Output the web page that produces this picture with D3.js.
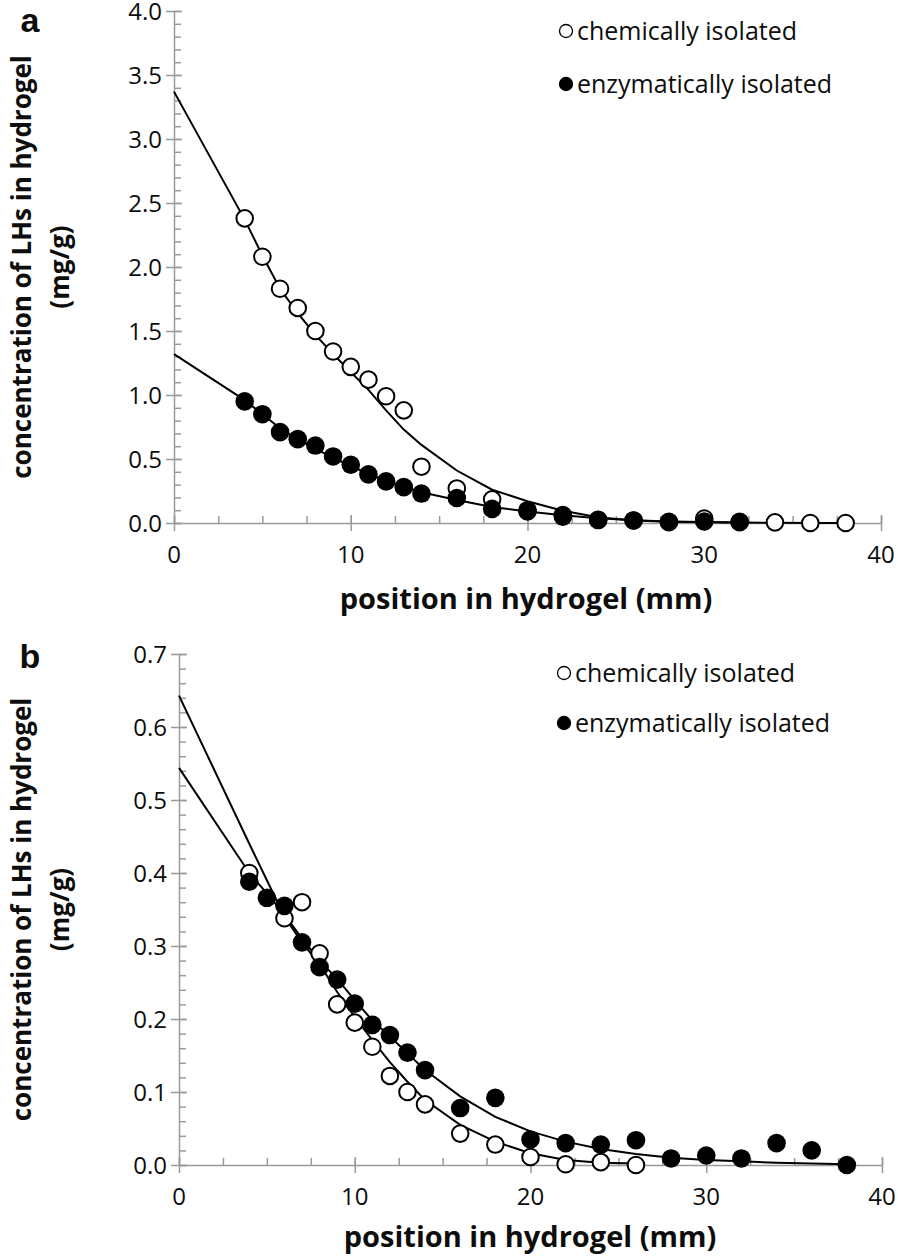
<!DOCTYPE html>
<html>
<head>
<meta charset="utf-8">
<script src="https://cdn.jsdelivr.net/npm/d3@7"></script>
<style>
  html, body { margin: 0; padding: 0; background: #fff; }
  svg { display: block; }
</style>
</head>
<body>
<svg id="chart" width="898" height="1258"></svg>
<script>
// ---------- data ----------
const xTickValues = [0, 10, 20, 30, 40];
const legendLabels = ["chemically isolated", "enzymatically isolated"];
const panelLetters = ["a", "b"];
const xTitle = "position in hydrogel (mm)";
const yTitleLines = ["concentration of LHs in hydrogel", "(mg/g)"];

// Panel a
const aYTicks = [0.0, 0.5, 1.0, 1.5, 2.0, 2.5, 3.0, 3.5, 4.0];
const aChemX = [4, 5, 6, 7, 8, 9, 10, 11, 12, 13, 14, 16, 18, 20, 22, 24, 26, 28, 30, 32, 34, 36, 38];
const aChemY = [2.38, 2.08, 1.83, 1.68, 1.50, 1.34, 1.22, 1.12, 0.99, 0.88, 0.44, 0.27, 0.185, 0.09, 0.05, 0.025, 0.02, 0.01, 0.035, 0.01, 0.005, 0.0, 0.0];
const aEnzX = [4, 5, 6, 7, 8, 9, 10, 11, 12, 13, 14, 16, 18, 20, 22, 24, 26, 28, 30, 32];
const aEnzY = [0.95, 0.85, 0.71, 0.655, 0.605, 0.52, 0.455, 0.38, 0.325, 0.28, 0.23, 0.195, 0.11, 0.10, 0.062, 0.024, 0.02, 0.006, 0.012, 0.006];
const aChemFitX = [0, 4, 5, 6, 7, 8, 9, 10, 11, 12, 13, 14, 16, 18, 20, 22, 24, 26, 28, 30, 32, 34, 36, 38];
const aChemFitY = [3.37, 2.37, 2.09, 1.83, 1.64, 1.47, 1.32, 1.18, 1.04, 0.88, 0.73, 0.61, 0.41, 0.26, 0.17, 0.095, 0.045, 0.02, 0.01, 0.005, 0.003, 0.001, 0.0, 0.0];
const aEnzFitX = [0, 4, 5, 6, 7, 8, 9, 10, 11, 12, 13, 14, 16, 18, 20, 22, 24, 26, 28, 30, 32];
const aEnzFitY = [1.32, 0.96, 0.85, 0.74, 0.655, 0.58, 0.51, 0.445, 0.385, 0.33, 0.285, 0.24, 0.18, 0.125, 0.09, 0.06, 0.038, 0.022, 0.012, 0.007, 0.004];

// Panel b
const bYTicks = [0.0, 0.1, 0.2, 0.3, 0.4, 0.5, 0.6, 0.7];
const bChemX = [4, 6, 7, 8, 9, 10, 11, 12, 13, 14, 16, 18, 20, 22, 24, 26];
const bChemY = [0.40, 0.338, 0.36, 0.29, 0.22, 0.195, 0.162, 0.122, 0.10, 0.083, 0.043, 0.028, 0.011, 0.001, 0.004, 0.0];
const bEnzX = [4, 5, 6, 7, 8, 9, 10, 11, 12, 13, 14, 16, 18, 20, 22, 24, 26, 28, 30, 32, 34, 36, 38];
const bEnzY = [0.388, 0.366, 0.355, 0.305, 0.271, 0.254, 0.221, 0.192, 0.178, 0.154, 0.130, 0.078, 0.092, 0.035, 0.030, 0.028, 0.034, 0.009, 0.013, 0.009, 0.030, 0.020, 0.0];
const bChemFitX = [0, 4, 5, 6, 7, 8, 9, 10, 11, 12, 13, 14, 16, 18, 20, 22, 24, 26];
const bChemFitY = [0.643, 0.44, 0.39, 0.34, 0.305, 0.275, 0.237, 0.203, 0.171, 0.141, 0.114, 0.089, 0.055, 0.032, 0.016, 0.007, 0.003, 0.002];
const bEnzFitX = [0, 4, 5, 6, 7, 8, 9, 10, 11, 12, 13, 14, 16, 18, 20, 22, 24, 26, 28, 30, 32, 34, 36, 38];
const bEnzFitY = [0.544, 0.40, 0.372, 0.343, 0.31, 0.28, 0.255, 0.226, 0.198, 0.176, 0.153, 0.13, 0.094, 0.066, 0.046, 0.032, 0.022, 0.015, 0.01, 0.007, 0.005, 0.003, 0.002, 0.001];

// ---------- drawing ----------
const svg = d3.select("#chart");
const FONT = "'Open Sans', 'Noto Sans', sans-serif";
const AXIS = "#9a9a9a";
const TXT = "#0d0d0d";
const zip = (xs, ys) => xs.map((x, i) => ({ x, y: ys[i] }));

function panel(opt) {
  const g = svg.append("g");
  const x = d3.scaleLinear().domain([0, 40]).range([opt.x0, opt.x1]);
  const y = d3.scaleLinear().domain([0, opt.yMax]).range([opt.y0, opt.y1]);

  // minor y ticks (right side)
  const yMinor = d3.range(0, opt.yMax + 1e-9, opt.yMinorStep);
  g.append("g").attr("transform", `translate(${opt.x0},0)`)
    .call(d3.axisRight(y).tickValues(yMinor).tickSize(7).tickFormat(""))
    .call(s => s.select(".domain").remove())
    .selectAll("line").attr("stroke", AXIS).attr("stroke-width", 1.5);
  // major y ticks (crossing)
  g.append("g").attr("transform", `translate(${opt.x0 + 8},0)`)
    .call(d3.axisLeft(y).tickValues(opt.yTicks).tickSize(16).tickFormat(""))
    .call(s => s.select(".domain").remove())
    .selectAll("line").attr("stroke", AXIS).attr("stroke-width", 1.5);
  // y axis line
  g.append("g").attr("transform", `translate(${opt.x0},0)`)
    .call(d3.axisLeft(y).tickValues([]).tickSizeOuter(0))
    .select(".domain").attr("stroke", AXIS).attr("stroke-width", 1.5);
  // y labels
  g.append("g").selectAll("text").data(opt.yTicks).join("text")
    .attr("x", opt.x0 - 12).attr("y", d => y(d)).attr("dy", "0.36em")
    .attr("text-anchor", "end").attr("font-family", FONT).attr("font-size", 24)
    .attr("fill", TXT).text(d3.format(".1f"));

  // minor x ticks (above)
  const xMinor = d3.range(0, 40.001, 2.5);
  g.append("g").attr("transform", `translate(0,${opt.y0})`)
    .call(d3.axisTop(x).tickValues(xMinor).tickSize(7).tickFormat(""))
    .call(s => s.select(".domain").remove())
    .selectAll("line").attr("stroke", AXIS).attr("stroke-width", 1.5);
  // major x ticks (crossing)
  g.append("g").attr("transform", `translate(0,${opt.y0 - 8})`)
    .call(d3.axisBottom(x).tickValues(xTickValues).tickSize(16).tickFormat(""))
    .call(s => s.select(".domain").remove())
    .selectAll("line").attr("stroke", AXIS).attr("stroke-width", 1.5);
  // x axis line
  g.append("g").attr("transform", `translate(0,${opt.y0})`)
    .call(d3.axisBottom(x).tickValues([]).tickSizeOuter(0))
    .select(".domain").attr("stroke", AXIS).attr("stroke-width", 1.5);
  // x labels
  g.append("g").selectAll("text").data(xTickValues).join("text")
    .attr("x", d => x(d)).attr("y", opt.y0 + opt.xLabelOff).attr("dy", "0.36em")
    .attr("text-anchor", "middle").attr("font-family", FONT).attr("font-size", 24)
    .attr("fill", TXT).text(d => d);

  // titles
  g.append("text").attr("x", opt.xTitleX).attr("y", opt.y0 + opt.xTitleOff).attr("dy", "0.36em")
    .attr("text-anchor", "middle").attr("font-family", FONT).attr("font-weight", "bold")
    .attr("font-size", 29).attr("fill", TXT).text(xTitle);
  const yc = (opt.y0 + opt.y1) / 2;
  yTitleLines.forEach((t, i) => {
    g.append("text").attr("transform", `translate(${[22, 60][i]},${yc}) rotate(-90)`)
      .attr("dy", "0.36em").attr("text-anchor", "middle").attr("font-family", FONT)
      .attr("font-weight", "bold").attr("font-size", 26).attr("fill", TXT).text(t);
  });
  g.append("text").attr("x", 30).attr("y", opt.letterY)
    .attr("text-anchor", "middle").attr("font-family", "'Liberation Sans', Arial, sans-serif")
    .attr("font-weight", "bold").attr("font-size", 34).attr("fill", TXT).text(opt.letter);

  // fit lines
  const line = d3.line().x(d => x(d.x)).y(d => y(d.y)).curve(d3.curveLinear);
  [opt.chemFit, opt.enzFit].forEach(f => {
    g.append("path").datum(f).attr("d", line).attr("fill", "none")
      .attr("stroke", "#000").attr("stroke-width", 2);
  });

  // points
  g.append("g").selectAll("circle").data(opt.chem).join("circle")
    .attr("cx", d => x(d.x)).attr("cy", d => y(d.y)).attr("r", 8.3)
    .attr("fill", "#fff").attr("stroke", "#000").attr("stroke-width", 2);
  g.append("g").selectAll("circle").data(opt.enz).join("circle")
    .attr("cx", d => x(d.x)).attr("cy", d => y(d.y)).attr("r", 9.3)
    .attr("fill", "#000");

  // legend
  const lg = g.append("g");
  legendLabels.forEach((t, i) => {
    const ly = opt.legendY[i];
    lg.append("circle").attr("cx", opt.legendX).attr("cy", ly).attr("r", 6.5)
      .attr("fill", i ? "#000" : "#fff").attr("stroke", "#000").attr("stroke-width", 1.3);
    lg.append("text").attr("x", opt.legendX + 11).attr("y", ly).attr("dy", "0.36em")
      .attr("font-family", FONT).attr("font-size", 25).attr("fill", TXT).text(t);
  });
}

panel({
  x0: 174, x1: 881, y0: 523, y1: 11, yMax: 4.0, yMinorStep: 0.1, yTicks: aYTicks,
  chem: zip(aChemX, aChemY), enz: zip(aEnzX, aEnzY),
  chemFit: zip(aChemFitX, aChemFitY), enzFit: zip(aEnzFitX, aEnzFitY),
  legendX: 566, legendY: [31, 84], letter: panelLetters[0], letterY: 32, xTitleX: 526,
  xLabelOff: 31, xTitleOff: 76
});
panel({
  x0: 179, x1: 882, y0: 1165, y1: 654, yMax: 0.7, yMinorStep: 0.02, yTicks: bYTicks,
  chem: zip(bChemX, bChemY), enz: zip(bEnzX, bEnzY),
  chemFit: zip(bChemFitX, bChemFitY), enzFit: zip(bEnzFitX, bEnzFitY),
  legendX: 564, legendY: [673, 723], letter: panelLetters[1], letterY: 668, xTitleX: 530,
  xLabelOff: 31, xTitleOff: 72
});
</script>
</body>
</html>
